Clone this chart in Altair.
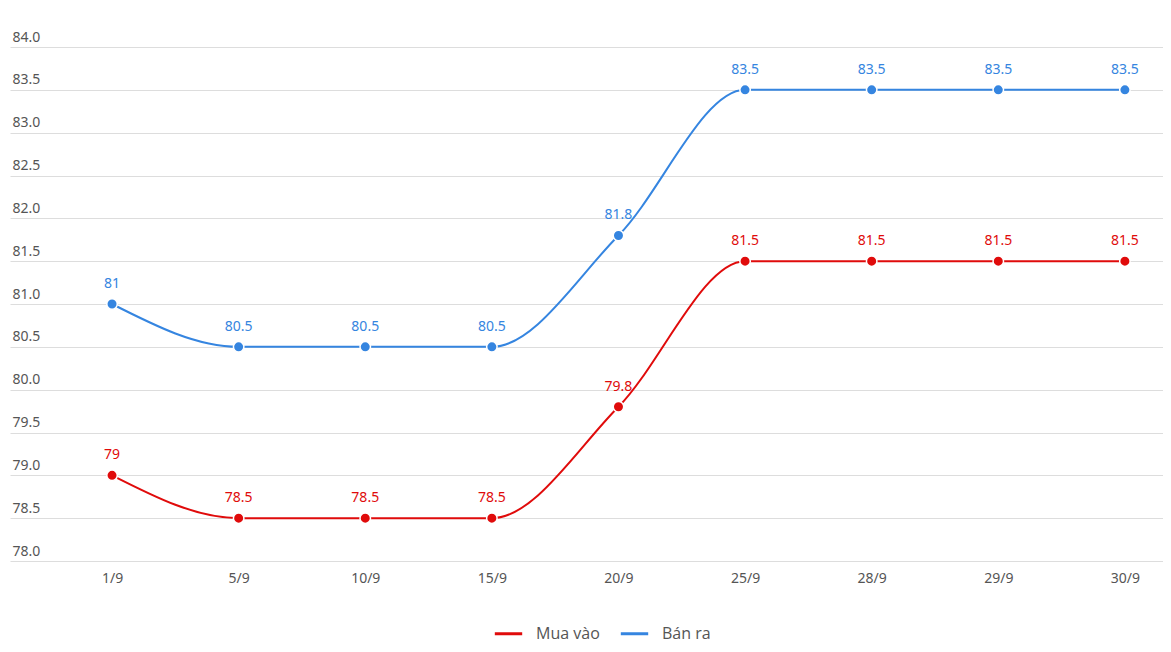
import altair as alt
import pandas as pd

dates = ["1/9", "5/9", "10/9", "15/9", "20/9", "25/9", "28/9", "29/9", "30/9"]
mua_vao = [79, 78.5, 78.5, 78.5, 79.8, 81.5, 81.5, 81.5, 81.5]
ban_ra = [81, 80.5, 80.5, 80.5, 81.8, 83.5, 83.5, 83.5, 83.5]
series_names = ["Mua vào", "Bán ra"]
series_colors = ["#e00b0b", "#3585e0"]
y_ticks = [78.0, 78.5, 79.0, 79.5, 80.0, 80.5, 81.0, 81.5, 82.0, 82.5, 83.0, 83.5, 84.0]

rows = []
for i, (d, v) in enumerate(zip(dates, mua_vao)):
    rows.append({"idx": i, "date": d, "series": series_names[0], "value": v})
for i, (d, v) in enumerate(zip(dates, ban_ra)):
    rows.append({"idx": i, "date": d, "series": series_names[1], "value": v})
df = pd.DataFrame(rows)

W = 1153
H = 514

label_expr = "[" + ",".join("'" + d + "'" for d in dates) + "][datum.value]"

x = alt.X("idx:Q", scale=alt.Scale(domain=[-0.806, 8.301], nice=False, zero=False),
          axis=alt.Axis(title=None, values=list(range(len(dates))), labelExpr=label_expr,
                        labelAngle=0, ticks=False, domain=False, grid=False,
                        labelPadding=10, labelFontSize=14, labelColor="#555555",
                        labelFont="Noto Sans"))
y = alt.Y("value:Q", scale=alt.Scale(domain=[78, 84], nice=False, zero=False),
          axis=alt.Axis(title=None, values=y_ticks, format=".1f", ticks=False, domain=False,
                        grid=True, gridColor="#dddddd", gridWidth=1,
                        labelAlign="left", labelBaseline="bottom", labelPadding=-2,
                        labelOffset=-3, labelFontSize=14, labelColor="#555555",
                        labelFont="Noto Sans"))
color = alt.Color("series:N", scale=alt.Scale(domain=series_names, range=series_colors),
                  legend=alt.Legend(title=None, orient="none", legendX=483, legendY=571,
                                    direction="horizontal", symbolType="stroke",
                                    symbolStrokeWidth=3, symbolSize=750,
                                    labelFontSize=16, labelColor="#555555",
                                    labelFont="Open Sans", labelOffset=12,
                                    columnPadding=14))

base = alt.Chart(df).encode(x=x, y=y, color=color)

line = base.mark_line(interpolate="monotone", strokeWidth=2)
pts = base.mark_point(filled=True, size=110, opacity=1, stroke="white", strokeWidth=1.5)
txt = base.mark_text(dy=-20, fontSize=14, font="Noto Sans").encode(
    text=alt.Text("value:Q", format=".1~f")
)

chart = (line + pts + txt).properties(
    width=W, height=H,
    autosize=alt.AutoSizeParams(type="none"),
    padding={"left": 2, "top": 39, "right": 0, "bottom": 83},
).configure_view(stroke=None)

chart.save("out.html", embed_options={"renderer": "svg", "actions": False})
